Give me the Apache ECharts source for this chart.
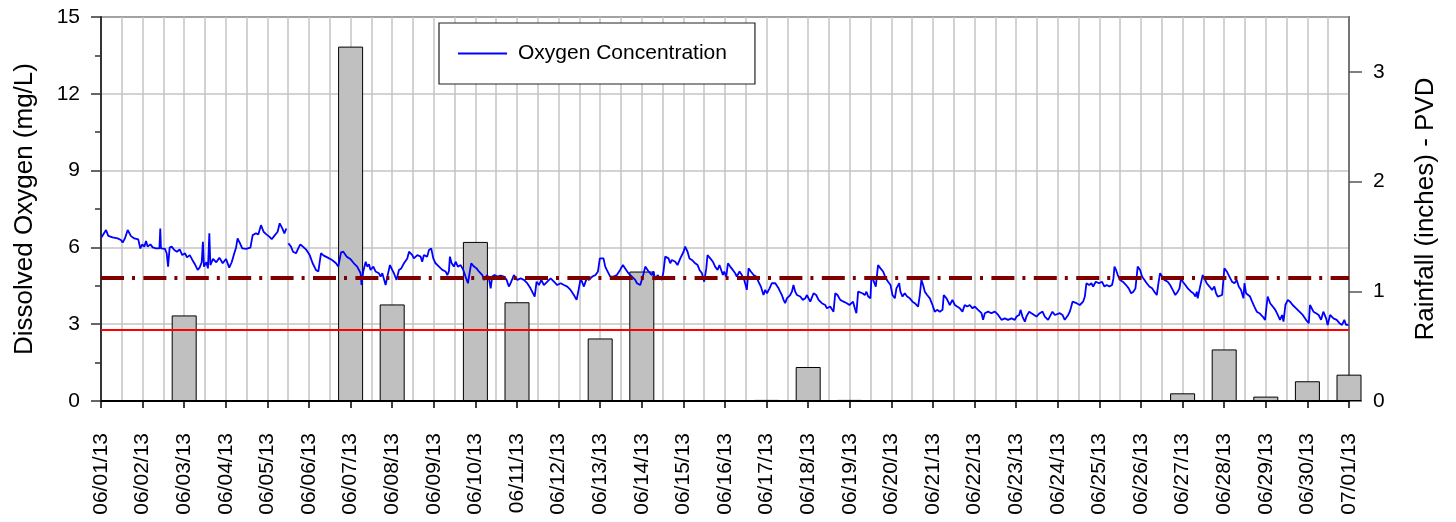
<!DOCTYPE html>
<html>
<head>
<meta charset="utf-8">
<script src="https://cdn.jsdelivr.net/npm/echarts@6/dist/echarts.min.js"></script>
<style>
  html, body { margin: 0; padding: 0; background: #fff; }
  #chart { width: 1456px; height: 522px; }
</style>
</head>
<body>
<div id="chart"></div>
<script>
// x axis is hours since 06/01/13 00:00, one tick label per day
var dateLabels = ['06/01/13', '06/02/13', '06/03/13', '06/04/13', '06/05/13', '06/06/13', '06/07/13', '06/08/13',
    '06/09/13', '06/10/13', '06/11/13', '06/12/13', '06/13/13', '06/14/13', '06/15/13', '06/16/13', '06/17/13',
    '06/18/13', '06/19/13', '06/20/13', '06/21/13', '06/22/13', '06/23/13', '06/24/13', '06/25/13', '06/26/13',
    '06/27/13', '06/28/13', '06/29/13', '06/30/13', '07/01/13'];

// daily rainfall (inches) - PVD, at hour of the day tick
var rainHours = [48, 144, 168, 216, 240, 288, 312, 384, 408, 432, 624, 648, 672, 696, 720];
var rainInches = [0.78, 3.23, 0.88, 1.45, 0.90, 0.57, 1.18, 0.01, 0.31, 0.01, 0.07, 0.47, 0.04, 0.18, 0.24];
var rainTicks = [0, 1, 2, 3];

// dissolved oxygen, [hour, mg/L]; null = logger gap
var oxygenReadings = [
    [0.3, 6.40], [2.9, 6.68], [4.2, 6.45], [6.7, 6.39], [9.6, 6.35], [11.5, 6.29], [12.5, 6.19], [13.8, 6.35],
    [15.4, 6.68], [17.3, 6.44], [19.2, 6.35], [21.5, 6.31], [22.7, 5.96], [23.8, 6.12], [25.0, 6.03], [26.0, 6.25],
    [26.9, 6.03], [28.5, 6.12], [29.8, 6.00], [31.7, 5.96], [33.7, 5.96], [34.2, 6.74], [34.6, 5.96], [36.9, 5.94],
    [37.9, 5.77], [38.7, 5.25], [39.6, 5.99], [40.8, 6.03], [42.3, 5.90], [43.8, 5.83], [45.4, 5.92], [46.9, 5.70],
    [48.5, 5.77], [49.6, 5.61], [51.2, 5.70], [52.7, 5.51], [54.2, 5.34], [55.8, 5.12], [56.9, 5.21], [58.1, 5.42],
    [58.8, 6.22], [59.4, 5.25], [60.8, 5.42], [61.7, 5.18], [62.5, 6.55], [63.1, 5.31], [64.6, 5.55], [66.5, 5.42],
    [68.3, 5.60], [70.2, 5.38], [72.1, 5.55], [74.0, 5.21], [75.4, 5.42], [76.9, 5.77], [77.9, 5.99], [78.8, 6.35],
    [80.0, 6.19], [81.5, 5.96], [83.7, 5.94], [86.2, 5.99], [87.5, 6.48], [89.4, 6.55], [90.8, 6.51], [92.3, 6.87],
    [93.8, 6.61], [95.4, 6.51], [97.1, 6.42], [98.5, 6.32], [100.0, 6.45], [101.9, 6.61], [103.1, 6.94], [104.6, 6.74],
    [105.8, 6.55], [106.9, 6.74], [107.5, null], [108.1, 6.16], [109.6, 6.03], [110.8, 5.83], [112.5, 5.77],
    [113.8, 5.96], [115.0, 6.12], [116.5, 6.03], [118.5, 5.90], [120.4, 5.70], [122.1, 5.38], [124.0, 5.12],
    [125.4, 5.06], [126.9, 5.77], [128.5, 5.68], [130.8, 5.60], [133.3, 5.51], [135.6, 5.38], [136.9, 5.25],
    [138.5, 5.81], [139.8, 5.83], [141.7, 5.64], [143.8, 5.55],
    [145.9, 5.38], [147.8, 5.25], [149.8, 4.99], [150.3, 4.53], [151.3, 5.06], [152.7, 5.44], [153.6, 5.25],
    [154.6, 5.34], [155.5, 5.12], [157.1, 5.25], [158.4, 5.06], [160.3, 4.99], [161.3, 4.86], [162.3, 4.99],
    [164.2, 4.53], [165.2, 4.86], [166.7, 5.31], [168.0, 5.12], [169.0, 4.99], [170.5, 4.73], [171.9, 5.12],
    [173.2, 5.18], [174.8, 5.38], [176.7, 5.57], [177.7, 5.83], [179.6, 5.70], [180.5, 5.57], [182.5, 5.70],
    [184.4, 5.64], [185.3, 5.44], [186.3, 5.70], [187.3, 5.77], [188.2, 5.64], [189.2, 5.90], [190.5, 5.96],
    [191.7, 5.57], [193.0, 5.38], [195.0, 5.25], [196.9, 5.12], [198.8, 5.06], [199.8, 4.92], [200.7, 5.06],
    [201.3, 5.64], [202.3, 5.38], [203.6, 5.25], [204.6, 5.44], [205.9, 5.25], [207.5, 5.31], [209.0, 5.12],
    [210.3, 4.86], [211.7, 4.60], [212.8, 5.06], [213.6, 5.38], [215.2, 5.25], [216.7, 5.18], [218.0, 5.06],
    [220.0, 4.92], [220.9, 4.73], [221.9, 4.66], [222.8, 4.92], [223.8, 4.79], [224.8, 4.40], [225.7, 4.86],
    [227.1, 4.92], [228.6, 4.86], [230.5, 4.90], [232.5, 4.86], [234.0, 4.73], [235.3, 4.47], [236.3, 4.60],
    [238.2, 4.92], [239.2, 4.86], [240.2, 4.73], [242.1, 4.79], [244.0, 4.73], [245.9, 4.60], [247.8, 4.40],
    [250.2, 4.08], [251.3, 4.66], [252.7, 4.53], [254.0, 4.73], [255.5, 4.53], [257.5, 4.66], [259.4, 4.79],
    [261.3, 4.66], [263.2, 4.53], [265.2, 4.60], [267.1, 4.53], [269.0, 4.47], [270.9, 4.34], [272.8, 4.14],
    [274.4, 3.95], [275.7, 4.40], [276.7, 4.79], [277.7, 4.73], [278.6, 4.47], [280.2, 4.79], [281.5, 4.73],
    [283.4, 4.86], [285.3, 4.92], [286.7, 5.06], [287.8, 5.57],
    [289.9, 5.57], [290.9, 5.25], [291.8, 5.12], [293.8, 4.86], [295.7, 4.86], [297.6, 4.92], [299.5, 5.12],
    [301.1, 5.31], [302.4, 5.18], [304.3, 4.99], [306.3, 4.86], [308.2, 4.73], [309.2, 4.60], [311.1, 4.53],
    [312.0, 4.60], [312.6, 4.86], [314.0, 5.25], [314.9, 5.18], [315.9, 5.06], [316.8, 5.12], [317.8, 4.92],
    [318.8, 5.06], [319.7, 4.73], [321.1, 4.92], [322.2, 4.99], [323.6, 4.73], [324.5, 5.06], [325.5, 5.64],
    [327.4, 5.57], [328.4, 5.38], [329.3, 5.51], [331.3, 5.44], [332.6, 5.31], [334.2, 5.57], [335.1, 5.64],
    [336.1, 5.83], [337.0, 6.03], [338.4, 5.83], [339.5, 5.57], [340.9, 5.51], [342.8, 5.38], [344.2, 5.31],
    [345.3, 5.12], [346.7, 4.99], [348.0, 4.66], [349.2, 5.18], [349.9, 5.70], [351.5, 5.57], [353.0, 5.44],
    [354.3, 5.25], [355.7, 5.12], [356.8, 5.31], [357.6, 5.25], [358.8, 4.92], [359.5, 5.06], [360.7, 4.86],
    [361.7, 5.38], [363.0, 5.25], [364.5, 5.12], [365.9, 4.99], [366.8, 4.86], [368.4, 5.06], [369.7, 4.92],
    [371.1, 4.73], [372.6, 4.34], [373.6, 5.18], [374.9, 5.06], [376.5, 4.92], [378.0, 4.86], [379.3, 4.66],
    [380.7, 4.47], [382.2, 4.14], [383.2, 4.34], [384.2, 4.21], [385.7, 4.40], [387.0, 4.60], [388.0, 4.53],
    [389.0, 4.60], [389.9, 4.66], [390.9, 4.40], [391.8, 4.27], [392.8, 4.14], [393.8, 3.95], [394.7, 3.82],
    [395.7, 4.01], [396.7, 4.08], [397.6, 4.14], [398.6, 4.27], [399.5, 4.53], [400.5, 4.27], [401.5, 4.14],
    [403.4, 4.08], [404.9, 3.95], [406.3, 4.01], [407.2, 4.14], [408.2, 4.08], [409.2, 3.88], [410.1, 3.82],
    [411.1, 4.21], [412.6, 4.14], [414.0, 3.95], [415.9, 3.82], [417.8, 3.75], [418.8, 3.62], [420.7, 3.69],
    [422.6, 3.49], [423.6, 4.21], [424.9, 4.14], [426.5, 3.95], [428.4, 3.88], [430.3, 3.82], [431.8, 3.75],
    [433.9, 3.88], [434.9, 3.62], [435.8, 3.43], [436.8, 4.27], [437.8, 4.34], [439.3, 4.21], [440.7, 4.14],
    [441.6, 4.27], [442.6, 4.08], [443.9, 4.01], [444.5, 4.86], [445.5, 4.73], [447.0, 4.47], [448.3, 5.31],
    [449.7, 5.18], [451.2, 5.06], [452.8, 4.79], [454.1, 4.66], [455.5, 4.53], [456.6, 4.14], [458.0, 4.01],
    [458.9, 4.40], [460.5, 4.60], [461.2, 4.27], [462.4, 4.08], [463.7, 4.21], [465.1, 4.08], [466.6, 4.01],
    [468.2, 3.88], [469.5, 3.82], [471.4, 3.69], [472.4, 4.14], [473.3, 4.73], [474.3, 4.53], [475.3, 4.27],
    [476.6, 4.14], [478.2, 4.01], [479.7, 3.75], [481.0, 3.49], [482.4, 3.56], [483.9, 3.49], [485.5, 3.56],
    [486.2, 4.14], [487.8, 4.01], [489.7, 3.75], [491.2, 3.95], [492.6, 3.75], [493.9, 3.69], [495.5, 3.62],
    [497.0, 3.49], [498.3, 3.75], [499.7, 3.69], [501.2, 3.75], [502.8, 3.62], [504.1, 3.69], [506.0, 3.56],
    [508.0, 3.43], [508.9, 3.17], [509.9, 3.43], [511.8, 3.49], [513.7, 3.43], [515.7, 3.49], [517.6, 3.36],
    [519.5, 3.17], [521.4, 3.23], [523.3, 3.17], [525.3, 3.23], [527.2, 3.17], [528.2, 3.30], [529.7, 3.36],
    [530.5, 3.56], [531.6, 3.30], [533.0, 3.10], [533.9, 3.30], [535.5, 3.49], [536.8, 3.43], [537.8, 3.36],
    [539.7, 3.30], [541.6, 3.43], [543.2, 3.49], [544.5, 3.30], [546.4, 3.17], [547.4, 3.23], [548.9, 3.49],
    [550.3, 3.36], [551.2, 3.36], [553.2, 3.43], [554.7, 3.36], [556.0, 3.17], [557.0, 3.23], [558.0, 3.36],
    [558.9, 3.49], [559.5, 3.62], [560.5, 3.88], [561.2, 3.95], [562.8, 3.82], [564.7, 3.75], [566.6, 3.88],
    [567.6, 4.08], [568.5, 4.60], [570.1, 4.53], [571.4, 4.60], [572.4, 4.47], [573.9, 4.66], [574.7, 4.73],
    [575.8, 4.60],
    [577.5, 4.66], [578.9, 4.47], [580.2, 4.53], [581.8, 4.47], [583.3, 4.53], [584.1, 4.79], [584.7, 5.25],
    [585.6, 5.12], [586.6, 4.92], [587.9, 4.73], [589.5, 4.66], [591.4, 4.53], [592.9, 4.40], [594.3, 4.21],
    [595.6, 4.27], [596.8, 4.40], [597.5, 4.86], [598.1, 5.25], [599.5, 5.12], [600.6, 4.86], [602.0, 4.73],
    [603.3, 4.60], [604.8, 4.47], [606.4, 4.40], [607.7, 4.27], [609.1, 4.14], [610.2, 4.66], [611.0, 4.99],
    [612.2, 4.86], [613.5, 4.73], [615.4, 4.66], [616.8, 4.53], [618.3, 4.34], [619.8, 4.14], [621.2, 4.27],
    [622.2, 4.40], [623.1, 4.79], [624.1, 4.66], [625.6, 4.53], [627.0, 4.40], [628.9, 4.27], [630.2, 4.21],
    [631.4, 4.08], [632.2, 4.27], [632.7, 4.01], [633.7, 4.34], [634.7, 4.40], [635.6, 4.92], [636.6, 4.79],
    [637.9, 4.60], [639.5, 4.47], [641.0, 4.34], [642.3, 4.47], [643.3, 4.21], [644.3, 4.08], [645.2, 4.14],
    [646.8, 4.14], [648.1, 5.18], [649.5, 5.06], [651.0, 4.86], [652.5, 4.66], [653.9, 4.60], [655.2, 4.73],
    [656.4, 4.47], [657.7, 4.34], [659.1, 4.01], [659.7, 4.60], [660.6, 4.21], [661.6, 4.14], [662.9, 4.08],
    [664.1, 3.88], [665.4, 3.69], [666.8, 3.49], [668.3, 3.43], [670.2, 3.30], [671.6, 3.17], [672.5, 3.75],
    [673.1, 4.08], [674.5, 3.82], [676.0, 3.69], [677.5, 3.56], [678.9, 3.36], [680.2, 3.17], [681.4, 3.36],
    [682.2, 3.10], [683.3, 3.75], [684.7, 3.95], [686.0, 3.88], [687.5, 3.75], [689.5, 3.62], [691.4, 3.49],
    [693.3, 3.36], [695.2, 3.17], [696.8, 3.04], [697.5, 3.75], [698.1, 3.82], [699.5, 3.49], [701.0, 3.43],
    [702.5, 3.36], [703.9, 3.17], [705.2, 3.49], [706.8, 3.23], [707.7, 2.97], [709.1, 3.36], [709.7, 3.43],
    [711.0, 3.23], [712.9, 3.17], [714.5, 3.04], [716.0, 2.97], [717.3, 3.17], [718.3, 2.97], [719.3, 3.04],
    [719.8, 2.97]
];

var doStandard = 2.8;   // solid red line
var doTarget = 4.8;     // dash-dot line

var fontFamily = "'Liberation Sans', Arial, sans-serif";
var gridColor = '#c4c4c4';

var myChart = echarts.init(document.getElementById('chart'));

var rainData = rainHours.map(function (h, i) {
    return [h, rainInches[i]];
});

var option = {
    animation: false,
    backgroundColor: '#ffffff',
    textStyle: { fontFamily: fontFamily },
    grid: {
        left: 101, right: 107, top: 17, bottom: 121,
        show: true, borderColor: '#000', borderWidth: 1.5, backgroundColor: 'transparent'
    },
    legend: {
        left: 439, top: 23,
        data: ['Oxygen Concentration'],
        icon: 'rect', itemWidth: 49, itemHeight: 2,
        padding: [20, 28, 20, 19],
        borderColor: '#222', borderWidth: 1.2, backgroundColor: '#fff',
        textStyle: { fontSize: 21, color: '#000', fontFamily: fontFamily, padding: [0, 0, 0, 6] }
    },
    xAxis: {
        type: 'value', min: 0, max: 720, interval: 24,
        axisLine: { show: true, lineStyle: { color: '#000', width: 2 } },
        axisTick: { show: true, length: 7, lineStyle: { color: '#000', width: 1.5 } },
        minorTick: { show: false, splitNumber: 2 },
        axisLabel: {
            rotate: 90, margin: 32, fontSize: 21, color: '#000', fontFamily: fontFamily,
            formatter: function (v) { return dateLabels[Math.round(v / 24)]; }
        },
        splitLine: { show: true, lineStyle: { color: gridColor, width: 1.5 } },
        minorSplitLine: { show: true, lineStyle: { color: gridColor, width: 1.5 } }
    },
    yAxis: [{
        type: 'value', min: 0, max: 15, interval: 3,
        name: 'Dissolved Oxygen (mg/L)', nameLocation: 'middle', nameGap: 63, nameRotate: 90,
        nameTextStyle: { fontSize: 26, color: '#000', fontFamily: fontFamily },
        axisLine: { show: true, lineStyle: { color: '#333', width: 2 } },
        axisTick: { show: true, length: 10, lineStyle: { color: '#333', width: 1.5 } },
        minorTick: { show: true, splitNumber: 2, length: 6, lineStyle: { color: '#333', width: 1.5 } },
        axisLabel: { margin: 21, fontSize: 21, color: '#000', fontFamily: fontFamily },
        splitLine: { show: true, lineStyle: { color: gridColor, width: 1.5 } }
    }, {
        type: 'value', position: 'right', min: 0, max: 3.5, interval: 1,
        name: 'Rainfall (inches) - PVD', nameLocation: 'middle', nameGap: 64, nameRotate: 90,
        nameTextStyle: { fontSize: 26, color: '#000', fontFamily: fontFamily },
        axisLine: { show: true, lineStyle: { color: '#666', width: 1.5 } },
        axisTick: { show: true, length: 13, customValues: rainTicks, lineStyle: { color: '#555', width: 1.5 } },
        axisLabel: { margin: 24, fontSize: 21, color: '#000', fontFamily: fontFamily, customValues: rainTicks },
        splitLine: { show: false }
    }],
    series: [{
        name: 'Rainfall',
        type: 'bar',
        yAxisIndex: 1,
        data: rainData,
        barWidth: 25,
        clip: true,
        silent: true,
        z: 2,
        itemStyle: { color: '#c0c0c0', borderColor: '#000', borderWidth: 1 }
    }, {
        name: 'Oxygen Concentration',
        type: 'line',
        yAxisIndex: 0,
        data: oxygenReadings,
        showSymbol: false,
        symbol: 'none',
        connectNulls: false,
        z: 4,
        lineStyle: { color: '#0000ff', width: 1.8 },
        itemStyle: { color: '#0000ff' },
        markLine: {
            silent: true,
            symbol: ['none', 'none'],
            label: { show: false },
            animation: false,
            data: [
                { yAxis: doStandard, lineStyle: { color: '#ff0000', width: 2, type: 'solid' } },
                { yAxis: doTarget, lineStyle: { color: '#800000', width: 4, type: [23, 8, 3, 8.4] } }
            ]
        }
    }]
};

myChart.setOption(option);
window.addEventListener('resize', function () {
    myChart.resize();
});
</script>
</body>
</html>
